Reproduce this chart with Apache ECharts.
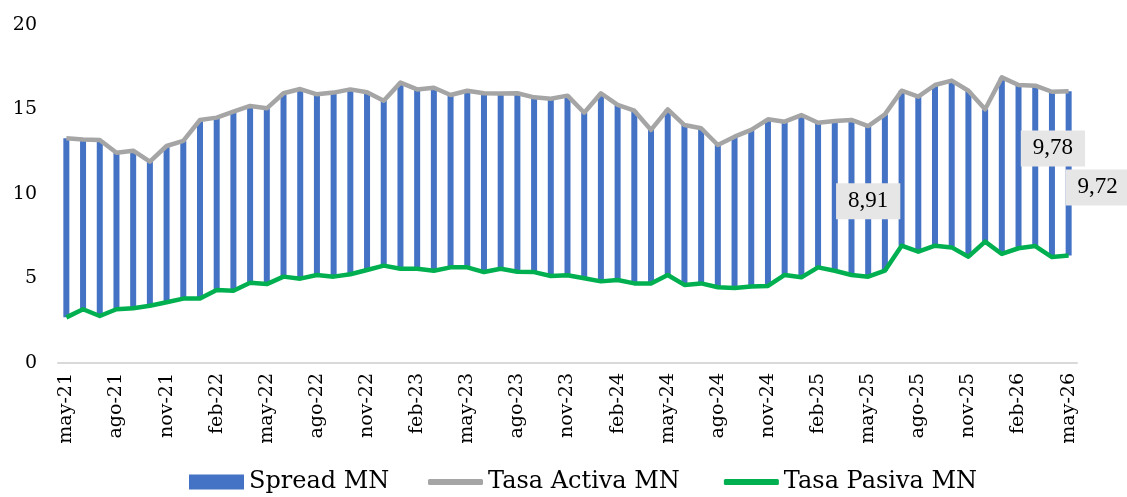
<!DOCTYPE html>
<html>
<head>
<meta charset="utf-8">
<script src="https://cdn.jsdelivr.net/npm/echarts@6/dist/echarts.min.js"></script>
<style>
  html, body { margin: 0; padding: 0; background: #fff; }
  #chart { width: 1127px; height: 497px; }
</style>
</head>
<body>
<div id="chart"></div>
<script>
const months = [
  'may-21', 'jun-21', 'jul-21', 'ago-21', 'sep-21', 'oct-21', 'nov-21', 'dic-21', 'ene-22', 'feb-22', 'mar-22', 'abr-22',
  'may-22', 'jun-22', 'jul-22', 'ago-22', 'sep-22', 'oct-22', 'nov-22', 'dic-22', 'ene-23', 'feb-23', 'mar-23', 'abr-23',
  'may-23', 'jun-23', 'jul-23', 'ago-23', 'sep-23', 'oct-23', 'nov-23', 'dic-23', 'ene-24', 'feb-24', 'mar-24', 'abr-24',
  'may-24', 'jun-24', 'jul-24', 'ago-24', 'sep-24', 'oct-24', 'nov-24', 'dic-24', 'ene-25', 'feb-25', 'mar-25', 'abr-25',
  'may-25', 'jun-25', 'jul-25', 'ago-25', 'sep-25', 'oct-25', 'nov-25', 'dic-25', 'ene-26', 'feb-26', 'mar-26', 'abr-26',
  'may-26'
]

// Tasa Activa MN
const tasaActiva = [
  13.30, 13.23, 13.20, 12.44, 12.56, 11.91, 12.84, 13.14, 14.38, 14.52, 14.87, 15.21,
  15.07, 15.96, 16.21, 15.90, 16.00, 16.19, 16.02, 15.52, 16.59, 16.19, 16.29, 15.86,
  16.11, 15.96, 15.94, 15.96, 15.72, 15.64, 15.82, 14.81, 15.96, 15.27, 14.93, 13.79,
  15.01, 14.08, 13.89, 12.90, 13.39, 13.79, 14.42, 14.28, 14.67, 14.22, 14.32, 14.38,
  14.02, 14.71, 16.11, 15.76, 16.45, 16.71, 16.11, 15.01, 16.90, 16.45, 16.41, 16.05,
  16.08
]

// Tasa Pasiva MN
const tasaPasiva = [
  2.70, 3.18, 2.78, 3.18, 3.24, 3.39, 3.59, 3.81, 3.81, 4.32, 4.28, 4.75,
  4.67, 5.11, 4.99, 5.21, 5.11, 5.25, 5.50, 5.76, 5.58, 5.58, 5.46, 5.66,
  5.66, 5.38, 5.58, 5.40, 5.38, 5.15, 5.19, 5.01, 4.83, 4.91, 4.71, 4.71,
  5.21, 4.62, 4.71, 4.48, 4.44, 4.52, 4.56, 5.21, 5.07, 5.66, 5.46, 5.21,
  5.11, 5.46, 6.94, 6.59, 6.94, 6.84, 6.29, 7.18, 6.45, 6.79, 6.92, 6.27,
  6.36
]

// Spread MN (activa - pasiva)
const spread = [
  10.60, 10.05, 10.42, 9.26, 9.32, 8.52, 9.25, 9.33, 10.57, 10.20, 10.59, 10.46,
  10.40, 10.85, 11.22, 10.69, 10.89, 10.94, 10.52, 9.76, 11.01, 10.61, 10.83, 10.20,
  10.45, 10.58, 10.36, 10.56, 10.34, 10.49, 10.63, 9.80, 11.13, 10.36, 10.22, 9.08,
  9.80, 9.46, 9.18, 8.42, 8.95, 9.27, 9.86, 9.07, 9.60, 8.56, 8.86, 9.17,
  8.91, 9.25, 9.17, 9.17, 9.51, 9.87, 9.82, 7.83, 10.45, 9.66, 9.49, 9.78,
  9.72
]

// etiquetas visibles: índice -> desplazamiento
const labelOffsets = { 48: [0, 0], 59: [1, -26], 60: [29, 14] }

const chart = echarts.init(document.getElementById('chart'))

const serif = 'DejaVu Serif'

const spreadData = spread.map((v, i) => {
  if (labelOffsets[i]) {
    return { value: v, label: { show: true, offset: labelOffsets[i] } }
  }
  return v
})

const option = {
  animation: false,
  grid: { left: 58, right: 50, top: 25, bottom: 134 },
  legend: [
    {
      left: 189,
      top: 470,
      padding: 0,
      itemWidth: 55,
      itemHeight: 15,
      icon: 'rect',
      data: ['Spread MN'],
      textStyle: { fontFamily: serif, fontSize: 24, color: '#000' }
    },
    {
      left: 428,
      top: 470,
      padding: 0,
      itemWidth: 55,
      itemHeight: 6,
      itemGap: 44,
      icon: 'roundRect',
      data: ['Tasa Activa MN', 'Tasa Pasiva MN'],
      textStyle: { fontFamily: serif, fontSize: 24, color: '#000' }
    }
  ],
  xAxis: {
    type: 'category',
    data: months,
    boundaryGap: true,
    axisLine: { lineStyle: { color: '#d9d9d9', width: 2 } },
    axisTick: { show: false },
    axisLabel: {
      interval: 2,
      rotate: 90,
      margin: 10,
      fontFamily: serif,
      fontSize: 19,
      color: '#000'
    }
  },
  yAxis: {
    type: 'value',
    min: 0,
    max: 20,
    interval: 5,
    splitLine: { show: false },
    axisLine: { show: false },
    axisTick: { show: false },
    axisLabel: {
      margin: 21,
      fontFamily: serif,
      fontSize: 19,
      color: '#000'
    }
  },
  series: [
    {
      name: 'base',
      type: 'bar',
      stack: 'tasas',
      barWidth: 6,
      data: tasaPasiva,
      itemStyle: { color: 'transparent' },
      silent: true
    },
    {
      name: 'Spread MN',
      type: 'bar',
      stack: 'tasas',
      barWidth: 6,
      data: spreadData,
      itemStyle: { color: '#4472c4' },
      label: {
        show: false,
        position: 'inside',
        fontFamily: 'Liberation Serif',
        fontSize: 23,
        lineHeight: 24,
        color: '#000',
        backgroundColor: '#e7e6e6',
        padding: [6, 12],
        formatter: p => p.value.toFixed(2).replace('.', ',')
      }
    },
    {
      name: 'Tasa Activa MN',
      type: 'line',
      data: tasaActiva,
      symbol: 'none',
      lineStyle: { color: '#a5a5a5', width: 4.5, join: 'round' },
      itemStyle: { color: '#a5a5a5' }
    },
    {
      name: 'Tasa Pasiva MN',
      type: 'line',
      data: tasaPasiva,
      symbol: 'none',
      lineStyle: { color: '#00b050', width: 4.5, join: 'round' },
      itemStyle: { color: '#00b050' }
    }
  ]
}

chart.setOption(option)
</script>
</body>
</html>
